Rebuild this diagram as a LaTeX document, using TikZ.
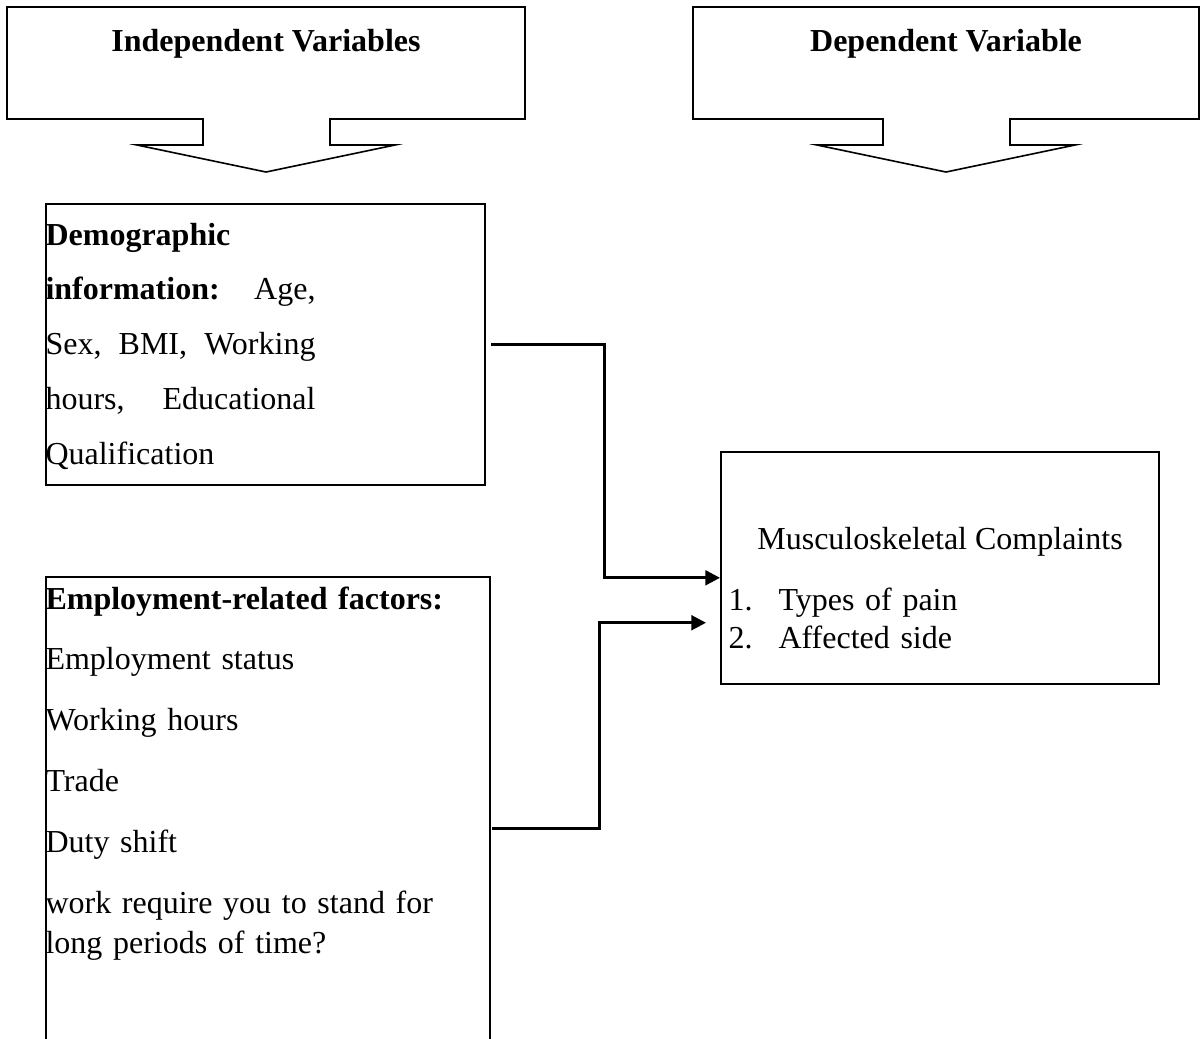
\documentclass[tikz,border=0pt]{standalone}
\usepackage{fontspec}
\setmainfont{Liberation Serif}
\usetikzlibrary{arrows.meta,calc}
\tikzset{
    px/.style={x=0.375pt,y=-0.375pt},
    box/.style={draw, line width=0.6pt, inner sep=0pt, anchor=north west},
    callout/.style={line width=0.6pt, line join=miter},
    headtext/.style={font=\bfseries\fontsize{12}{14}\selectfont, inner sep=0pt, anchor=base},
    bodytext/.style={font=\fontsize{12}{14.25}\selectfont, inner sep=0pt},
    link/.style={line width=1.1pt, -{Triangle[length=5.5pt,width=5.5pt]}}
}

\begin{document}
\begin{tikzpicture}[px]
        \clip (0,0) rectangle (1201,1038);
        \foreach \l/\r/\c in {7/525/266,693/1199/946}{
            \draw[callout] (\l,7) -- (\r,7) -- (\r,119) -- (\c+64,119) -- (\c+64,145)
                -- (\c+129,145) -- (\c,172) -- (\c-129,145) -- (\c-63,145)
                -- (\c-63,119) -- (\l,119) -- cycle;
        }
        \node[headtext] (indep) at (266,51) {Independent Variables};
        \node[headtext] (dep) at (946,51) {Dependent Variable};

        \node[box, minimum width=164.6pt, minimum height=105.4pt] (demo) at (45,203) {};
        \node[font=\fontsize{12}{20.6}\selectfont, inner sep=0pt, anchor=base west,
              text width=101.25pt, align=left] (demotext) at (45,245)
            {\textbf{Demographic}\\
             \textbf{information:}\hfill Age,\\
             Sex,\hfill BMI,\hfill Working\\
             hours,\hfill Educational\\
             Qualification};

        \node[box, minimum width=166.5pt, minimum height=189pt] (employ) at (45,576) {};
        \node[bodytext, anchor=base west, text width=165pt, align=left] (employtext) at (45,609)
            {\textbf{Employment-related factors:}\\[8.6pt]
             Employment status\\[8.6pt]
             Working hours\\[8.6pt]
             Trade\\[8.6pt]
             Duty shift\\[8.6pt]
             work require you to stand for\\[0.6pt]
             long periods of time?};

        \node[box, minimum width=164.25pt, minimum height=87pt] (msk) at (720,451) {};
        \node[bodytext, anchor=base] (msktitle) at (940,549) {Musculoskeletal Complaints};
        \node[bodytext, anchor=base west, text width=120pt, align=left] (msklist) at (728,610)
            {\makebox[18.75pt][l]{1.}Types of pain\\
             \makebox[18.75pt][l]{2.}Affected side};

        \coordinate (tip2) at ([xshift=-5.25pt,yshift=-20.6pt]msk.west);
        \draw[link] ([xshift=2pt]demo.east) -- ++(114,0) |- ([yshift=-3.75pt]msk.west);
        \draw[link] ([xshift=0.4pt]employ.east) -- ++(108,0) |- (tip2);
\end{tikzpicture}
\end{document}
